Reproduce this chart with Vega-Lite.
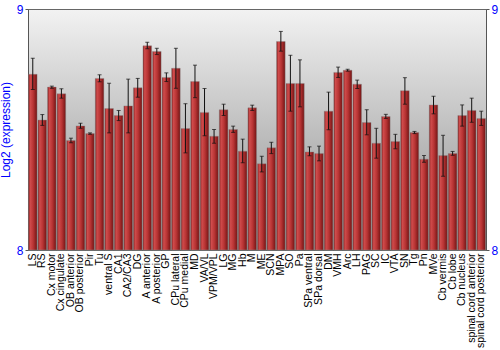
{
  "$schema": "https://vega.github.io/schema/vega-lite/v6.json",
  "autosize": "none",
  "width": 458,
  "height": 241,
  "padding": {"left": 28, "top": 9, "right": 14, "bottom": 100},
  "config": {
    "font": "Liberation Sans",
    "view": {
      "stroke": "#666",
      "strokeWidth": 1,
      "fill": {"gradient": "linear", "x1": 0, "y1": 0, "x2": 0, "y2": 1,
        "stops": [{"offset": 0, "color": "#f2f2f2"}, {"offset": 1, "color": "#8c8c8c"}]}
    }
  },
  "data": {"values": [
    {"region": "LS", "value": 8.729, "lo": 8.666, "hi": 8.796},
    {"region": "RS", "value": 8.539, "lo": 8.517, "hi": 8.562},
    {"region": "Cx motor", "value": 8.676, "lo": 8.671, "hi": 8.680},
    {"region": "Cx cingulate", "value": 8.648, "lo": 8.630, "hi": 8.669},
    {"region": "OB anterior", "value": 8.454, "lo": 8.445, "hi": 8.464},
    {"region": "OB posterior", "value": 8.515, "lo": 8.505, "hi": 8.526},
    {"region": "Pir", "value": 8.483, "lo": 8.480, "hi": 8.486},
    {"region": "Tu", "value": 8.712, "lo": 8.698, "hi": 8.727},
    {"region": "ventral S", "value": 8.587, "lo": 8.486, "hi": 8.692},
    {"region": "CA1", "value": 8.558, "lo": 8.537, "hi": 8.579},
    {"region": "CA2/CA3", "value": 8.598, "lo": 8.486, "hi": 8.709},
    {"region": "DG", "value": 8.673, "lo": 8.634, "hi": 8.712},
    {"region": "A anterior", "value": 8.847, "lo": 8.835, "hi": 8.862},
    {"region": "A posterior", "value": 8.824, "lo": 8.811, "hi": 8.837},
    {"region": "GP", "value": 8.716, "lo": 8.699, "hi": 8.735},
    {"region": "CPu lateral", "value": 8.754, "lo": 8.671, "hi": 8.837},
    {"region": "CPu medial", "value": 8.504, "lo": 8.403, "hi": 8.607},
    {"region": "MD", "value": 8.699, "lo": 8.632, "hi": 8.767},
    {"region": "VA/VL", "value": 8.571, "lo": 8.474, "hi": 8.670},
    {"region": "VPM/VPL", "value": 8.472, "lo": 8.443, "hi": 8.500},
    {"region": "LG", "value": 8.582, "lo": 8.558, "hi": 8.605},
    {"region": "MG", "value": 8.500, "lo": 8.488, "hi": 8.514},
    {"region": "Hb", "value": 8.410, "lo": 8.362, "hi": 8.460},
    {"region": "M", "value": 8.590, "lo": 8.579, "hi": 8.601},
    {"region": "ME", "value": 8.358, "lo": 8.324, "hi": 8.389},
    {"region": "SCN", "value": 8.424, "lo": 8.400, "hi": 8.447},
    {"region": "MPA", "value": 8.865, "lo": 8.825, "hi": 8.907},
    {"region": "SO", "value": 8.691, "lo": 8.576, "hi": 8.808},
    {"region": "Pa", "value": 8.691, "lo": 8.594, "hi": 8.789},
    {"region": "SPa ventral", "value": 8.407, "lo": 8.391, "hi": 8.428},
    {"region": "SPa dorsal", "value": 8.400, "lo": 8.370, "hi": 8.431},
    {"region": "DM", "value": 8.576, "lo": 8.499, "hi": 8.655},
    {"region": "VMH", "value": 8.737, "lo": 8.716, "hi": 8.759},
    {"region": "Arc", "value": 8.746, "lo": 8.742, "hi": 8.750},
    {"region": "LH", "value": 8.688, "lo": 8.670, "hi": 8.705},
    {"region": "PAG", "value": 8.529, "lo": 8.478, "hi": 8.582},
    {"region": "SC", "value": 8.443, "lo": 8.381, "hi": 8.505},
    {"region": "IC", "value": 8.554, "lo": 8.546, "hi": 8.563},
    {"region": "VTA", "value": 8.450, "lo": 8.420, "hi": 8.480},
    {"region": "SN", "value": 8.661, "lo": 8.605, "hi": 8.715},
    {"region": "Tg", "value": 8.488, "lo": 8.483, "hi": 8.492},
    {"region": "Pn", "value": 8.377, "lo": 8.364, "hi": 8.392},
    {"region": "MVe", "value": 8.602, "lo": 8.565, "hi": 8.638},
    {"region": "Cb vermis", "value": 8.392, "lo": 8.306, "hi": 8.476},
    {"region": "Cb lobe", "value": 8.400, "lo": 8.393, "hi": 8.409},
    {"region": "Cb nucleus", "value": 8.558, "lo": 8.514, "hi": 8.602},
    {"region": "spinal cord anterior", "value": 8.579, "lo": 8.530, "hi": 8.630},
    {"region": "spinal cord posterior", "value": 8.546, "lo": 8.517, "hi": 8.576}
  ]},
  "encoding": {
    "x": {
      "field": "region", "type": "nominal", "sort": null,
      "scale": {"paddingInner": 0.1, "paddingOuter": 0.05},
      "axis": {"title": null, "labelAngle": -90, "labelFontSize": 10.5, "labelColor": "#000",
        "ticks": false, "domain": false, "labelPadding": 3, "labelFont": "Liberation Sans"}
    }
  },
  "resolve": {"axis": {"y": "independent"}},
  "layer": [
    {
      "mark": {"type": "bar", "stroke": "#888", "strokeWidth": 0.6, "strokeOpacity": 0.7,
        "color": {"gradient": "linear", "x1": 0, "y1": 0, "x2": 1, "y2": 0,
          "stops": [
            {"offset": 0, "color": "#801c1c"},
            {"offset": 0.2, "color": "#d04c4c"},
            {"offset": 0.55, "color": "#b83434"},
            {"offset": 1, "color": "#721414"}
          ]}},
      "encoding": {
        "y": {"field": "value", "type": "quantitative",
          "scale": {"domain": [8, 9], "zero": false, "nice": false},
          "axis": {"values": [8, 9], "format": "d", "title": "Log2 (expression)", "titleColor": "#0000ff",
            "titleFontSize": 12, "titleFontWeight": "normal", "titleFont": "Liberation Sans",
            "labelColor": "#0000ff", "labelFontSize": 12, "labelFont": "Liberation Sans",
            "grid": false, "domainColor": "#555", "tickColor": "#555", "tickSize": 3,
            "labelPadding": 2, "titlePadding": 4}},
        "y2": {"datum": 8}
      }
    },
    {
      "mark": {"type": "rule", "color": "#111", "strokeWidth": 1},
      "encoding": {
        "y": {"field": "lo", "type": "quantitative",
          "axis": {"orient": "right", "values": [8, 9], "format": "d", "title": null,
            "labelColor": "#0000ff", "labelFontSize": 12, "labelFont": "Liberation Sans",
            "grid": false, "domainColor": "#555", "tickColor": "#555", "tickSize": 3,
            "labelPadding": 2}},
        "y2": {"field": "hi"}
      }
    },
    {
      "mark": {"type": "tick", "color": "#111", "size": 4, "thickness": 1},
      "encoding": {"y": {"field": "lo", "type": "quantitative", "axis": null}}
    },
    {
      "mark": {"type": "tick", "color": "#111", "size": 4, "thickness": 1},
      "encoding": {"y": {"field": "hi", "type": "quantitative", "axis": null}}
    }
  ]
}
